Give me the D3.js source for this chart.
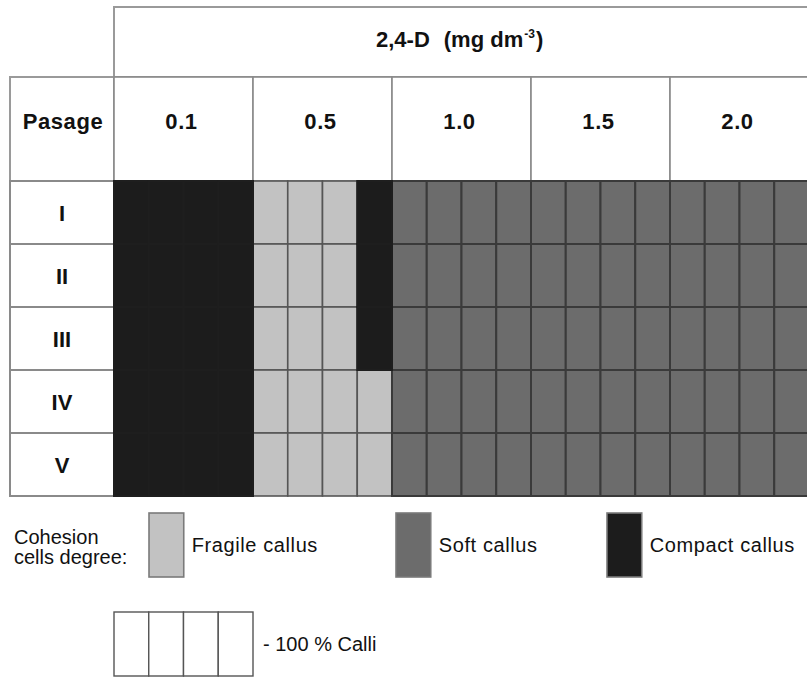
<!DOCTYPE html>
<html>
<head>
<meta charset="utf-8">
<script src="https://cdn.jsdelivr.net/npm/d3@7"></script>
<style>
  html, body { margin: 0; padding: 0; background: #fff; }
  svg { display: block; }
  text { font-family: "Liberation Sans", Arial, Helvetica, sans-serif; fill: #111; }
</style>
</head>
<body>
<svg id="chart" width="807" height="677"></svg>
<script>
// ---------------- DATA ----------------
const concentrations = ["0.1", "0.5", "1.0", "1.5", "2.0"];
const passages = ["I", "II", "III", "IV", "V"];
const subCells = [0, 1, 2, 3];               // each cell = 4 quarters (25 % of calli each)
// cohesion type of each quarter, per passage, per concentration
// F = fragile callus, S = soft callus, C = compact callus
const passageI   = ["CCCC", "FFFC", "SSSS", "SSSS", "SSSS"];
const passageII  = ["CCCC", "FFFC", "SSSS", "SSSS", "SSSS"];
const passageIII = ["CCCC", "FFFC", "SSSS", "SSSS", "SSSS"];
const passageIV  = ["CCCC", "FFFF", "SSSS", "SSSS", "SSSS"];
const passageV   = ["CCCC", "FFFF", "SSSS", "SSSS", "SSSS"];
const cohesionRows = [passageI, passageII, passageIII, passageIV, passageV];
const cohesionKeys = ["F", "S", "C"];
const cohesionLabels = ["Fragile callus", "Soft callus", "Compact callus"];
const headerTitle = "2,4-D";
const headerUnit = "(mg dm";
const headerExp = "-3";
const rowHeaderLabel = "Pasage";
const legendTitle = ["Cohesion", "cells degree:"];
const legendCalliLabel = "- 100 % Calli";

// ---------------- LAYOUT ----------------
const svg = d3.select("#chart");
const gridLeft = 114, gridRight = 809;
const labelLeft = 10;
const titleTop = 7, headTop = 77, gridTop = 181, gridBottom = 496;

const fillColor = d3.scaleOrdinal().domain(cohesionKeys).range(["#c2c2c2", "#6c6c6c", "#1c1c1c"]);
const strokeColor = d3.scaleOrdinal().domain(cohesionKeys).range(["#555555", "#3a3a3a", "#1e1e1e"]);

const x = d3.scaleBand().domain(concentrations).range([gridLeft, gridRight]).padding(0);
const xs = d3.scaleBand().domain(subCells).range([0, x.bandwidth()]).padding(0);
const y = d3.scaleBand().domain(passages).range([gridTop, gridBottom]).padding(0);

// --- title box ---
svg.append("rect")
  .attr("x", gridLeft).attr("y", titleTop)
  .attr("width", gridRight - gridLeft).attr("height", headTop - titleTop)
  .attr("fill", "#fff").attr("stroke", "#9a9a9a").attr("stroke-width", 2);

const title = svg.append("text")
  .attr("x", 376).attr("y", 47)
  .style("font-size", "22px").style("font-weight", "bold");
title.append("tspan").text(headerTitle);
title.append("tspan").attr("dx", 14).text(headerUnit);
title.append("tspan").attr("dy", -9).attr("dx", 1).style("font-size", "12px").text(headerExp);
title.append("tspan").attr("dy", 9).attr("dx", 1).text(")");

// --- header row ---
svg.append("rect")
  .attr("x", labelLeft).attr("y", headTop)
  .attr("width", gridLeft - labelLeft).attr("height", gridTop - headTop)
  .attr("fill", "#fff").attr("stroke", "#9a9a9a").attr("stroke-width", 2);
svg.append("text")
  .attr("x", (labelLeft + gridLeft) / 2 + 1).attr("y", 129)
  .attr("text-anchor", "middle")
  .style("font-size", "22px").style("font-weight", "bold").style("letter-spacing", "0.6px")
  .text(rowHeaderLabel);

svg.selectAll("rect.head").data(concentrations).join("rect")
  .attr("class", "head")
  .attr("x", d => x(d)).attr("y", headTop)
  .attr("width", x.bandwidth()).attr("height", gridTop - headTop)
  .attr("fill", "#fff").attr("stroke", "#8a8a8a").attr("stroke-width", 1.6);

svg.selectAll("text.head").data(concentrations).join("text")
  .attr("class", "head")
  .attr("x", d => x(d) + x.bandwidth() / 2 - 2).attr("y", 129)
  .attr("text-anchor", "middle")
  .style("font-size", "22px").style("font-weight", "bold").style("letter-spacing", "0.6px")
  .text(d => d);

// --- row labels ---
svg.selectAll("rect.rowlab").data(passages).join("rect")
  .attr("class", "rowlab")
  .attr("x", labelLeft).attr("y", d => y(d))
  .attr("width", gridLeft - labelLeft).attr("height", y.bandwidth())
  .attr("fill", "#fff").attr("stroke", "#8a8a8a").attr("stroke-width", 2);

svg.selectAll("text.rowlab").data(passages).join("text")
  .attr("class", "rowlab")
  .attr("x", (labelLeft + gridLeft) / 2).attr("y", d => y(d) + y.bandwidth() / 2 + 8)
  .attr("text-anchor", "middle")
  .style("font-size", "22px").style("font-weight", "bold")
  .text(d => d);

// --- cells ---
const cells = [];
passages.forEach((p, pi) => {
  concentrations.forEach((c, ci) => {
    cohesionRows[pi][ci].split("").forEach((t, si) => {
      cells.push({ passage: p, conc: c, sub: subCells[si], type: t });
    });
  });
});
const order = { F: 0, S: 1, C: 2 };
cells.sort((a, b) => order[a.type] - order[b.type]);

svg.append("g").selectAll("rect").data(cells).join("rect")
  .attr("x", d => x(d.conc) + xs(d.sub))
  .attr("y", d => y(d.passage))
  .attr("width", xs.bandwidth())
  .attr("height", y.bandwidth())
  .attr("fill", d => fillColor(d.type))
  .attr("stroke", d => strokeColor(d.type))
  .attr("stroke-width", d => d.type === "F" ? 1.6 : 2);

// --- legend ---
svg.append("text")
  .attr("x", 14).attr("y", 544)
  .style("font-size", "20px")
  .selectAll("tspan").data(legendTitle).join("tspan")
  .attr("x", 14).attr("dy", (d, i) => i === 0 ? 0 : 20)
  .text(d => d);

const legendX = [149, 396, 607];
const legendG = svg.append("g").selectAll("g").data(cohesionKeys).join("g")
  .attr("transform", (d, i) => `translate(${legendX[i]},513)`);
legendG.append("rect")
  .attr("width", xs.bandwidth()).attr("height", 64)
  .attr("fill", d => fillColor(d)).attr("stroke", "#7a7a7a").attr("stroke-width", 1.6);
legendG.append("text")
  .attr("x", xs.bandwidth() + 8).attr("y", 39)
  .style("font-size", "20px").style("letter-spacing", "0.6px")
  .text((d, i) => cohesionLabels[i]);

// 100 % calli box
const calliG = svg.append("g").attr("transform", "translate(114,612)");
calliG.selectAll("rect").data(subCells).join("rect")
  .attr("x", d => xs(d)).attr("y", 0)
  .attr("width", xs.bandwidth()).attr("height", 64)
  .attr("fill", "#fff").attr("stroke", "#555").attr("stroke-width", 1.4);
calliG.append("text")
  .attr("x", x.bandwidth() + 10).attr("y", 39)
  .style("font-size", "20px")
  .text(legendCalliLabel);
</script>
</body>
</html>
